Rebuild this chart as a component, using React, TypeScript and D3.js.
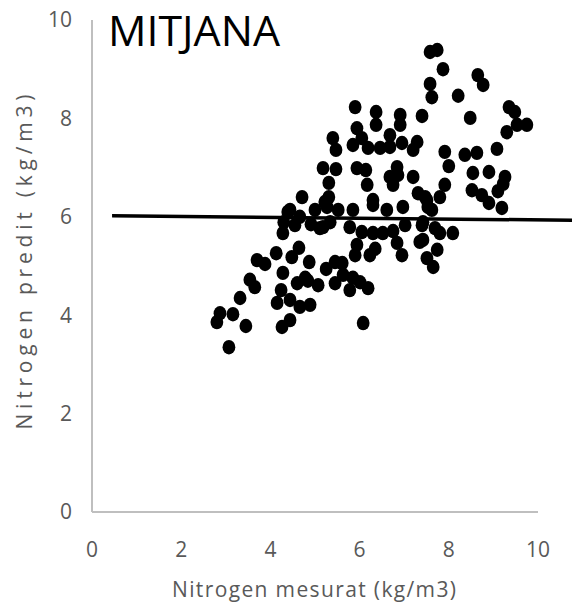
import React from 'react'
import * as d3 from 'd3'

// measured nitrogen (kg/m3)
const measured = [
  2.8, 2.87, 3.16, 3.45, 3.07, 3.32, 3.54, 3.65, 3.7, 3.88, 4.13, 4.28, 4.39, 4.3, 4.55,
  4.28, 4.24, 4.15, 4.48, 4.64, 4.44, 4.66, 4.89, 4.26, 4.44, 4.6, 4.78, 4.84, 5.07, 4.87,
  5.25, 5.45, 5.61, 4.71, 4.44, 4.66, 5.0, 4.91, 5.11, 5.22, 5.18, 5.34, 5.27, 5.52, 5.85,
  6.3, 6.61, 6.97, 7.31, 7.51, 7.62, 5.78, 6.05, 6.3, 6.52, 6.75, 7.02, 7.4, 7.8, 8.09,
  5.94, 5.9, 6.23, 6.35, 6.84, 6.95, 7.35, 7.74, 7.51, 7.65, 5.63, 5.85, 6.01, 6.19, 5.78,
  5.45, 6.08, 5.31, 5.31, 6.3, 5.18, 5.47, 5.94, 6.14, 6.84, 6.86, 6.68, 6.17, 6.75, 7.2,
  5.4, 5.47, 5.85, 6.05, 6.19, 6.46, 6.68, 6.68, 6.95, 7.2, 7.29, 5.9, 5.94, 6.37, 6.37,
  6.91, 6.91, 7.4, 7.58, 7.74, 7.87, 7.58, 7.62, 8.21, 8.65, 8.77, 8.48, 9.35, 9.48, 9.75,
  9.53, 9.3, 7.91, 8.36, 8.63, 9.08, 8.0, 8.54, 8.9, 9.26, 9.22, 7.91, 8.52, 9.1, 7.8,
  8.74, 8.9, 9.19, 7.47, 7.53, 7.42, 7.69, 7.42
]

// predicted nitrogen (kg/m3)
const predicted = [
  3.86, 4.04, 4.02, 3.78, 3.35, 4.35, 4.72, 4.57, 5.12, 5.04, 5.26, 5.67, 6.1, 5.89, 5.83,
  4.86, 4.51, 4.25, 5.18, 5.37, 4.31, 4.17, 4.21, 3.76, 3.9, 4.65, 4.76, 4.7, 4.61, 5.08,
  4.94, 5.08, 5.06, 6.4, 6.14, 6.0, 6.14, 5.85, 5.77, 6.3, 5.79, 5.89, 6.2, 6.14, 6.14,
  6.24, 6.14, 6.2, 6.48, 6.34, 6.14, 5.79, 5.69, 5.67, 5.67, 5.71, 5.83, 5.83, 5.67, 5.67,
  5.43, 5.22, 5.22, 5.35, 5.47, 5.22, 5.49, 5.33, 5.16, 4.98, 4.82, 4.76, 4.67, 4.55, 4.51,
  4.65, 3.84, 6.69, 6.4, 6.34, 6.99, 6.97, 6.99, 6.95, 7.01, 6.85, 6.81, 6.65, 6.65, 6.81,
  7.6, 7.36, 7.46, 7.6, 7.4, 7.4, 7.66, 7.42, 7.5, 7.36, 7.52, 8.23, 7.8, 8.13, 7.87,
  8.07, 7.87, 8.05, 9.35, 9.39, 9.0, 8.7, 8.43, 8.46, 8.88, 8.68, 8.01, 8.23, 8.13, 7.87,
  7.87, 7.72, 7.32, 7.26, 7.3, 7.38, 7.03, 6.89, 6.91, 6.81, 6.67, 6.65, 6.54, 6.52, 6.4,
  6.44, 6.28, 6.18, 6.4, 6.2, 5.89, 5.77, 5.53
]

const trendX = [0.45, 10.8]
const trendY = [6.02, 5.93]

const ticks = [0, 2, 4, 6, 8, 10]

const W = 572
const H = 615

const App: React.FC = () => {
  const x = d3.scaleLinear().domain([0, 10]).range([92, 538])
  const y = d3.scaleLinear().domain([0, 10]).range([512, 20])

  const line = d3
    .line<number>()
    .x((d) => x(d))
    .y((_, i) => y(trendY[i]))

  const font = "'Open Sans', sans-serif"

  return (
    <svg
      width={W}
      height={H}
      style={{ position: 'absolute', left: 0, top: 0, background: '#fff' }}
    >
      {/* axes */}
      <line x1={x(0)} x2={x(0)} y1={y(0)} y2={y(10)} stroke="#bfbfbf" strokeWidth={2} />
      <line x1={x(0)} x2={x(10)} y1={y(0)} y2={y(0)} stroke="#bfbfbf" strokeWidth={2} />

      {ticks.map((t) => (
        <text
          key={'y' + t}
          x={72}
          y={y(t)}
          dy="0.35em"
          textAnchor="end"
          fontFamily={font}
          fontSize={21}
          fill="#595959"
        >
          {t}
        </text>
      ))}
      {ticks.map((t) => (
        <text
          key={'x' + t}
          x={x(t)}
          y={550}
          dy="0.35em"
          textAnchor="middle"
          fontFamily={font}
          fontSize={21}
          fill="#595959"
        >
          {t}
        </text>
      ))}

      {/* points */}
      {measured.map((m, i) => (
        <ellipse key={i} cx={x(m)} cy={y(predicted[i])} rx={6.4} ry={7.2} fill="#000" />
      ))}

      {/* trend line */}
      <path d={line(trendX) ?? ''} fill="none" stroke="#000" strokeWidth={3.5} />

      {/* titles */}
      <text
        x={108}
        y={46}
        fontFamily={font}
        fontSize={42}
        fill="#000"
        textLength={172}
        lengthAdjust="spacingAndGlyphs"
      >
        MITJANA
      </text>
      <text
        x={314}
        y={590}
        dy="0.35em"
        textAnchor="middle"
        fontFamily={font}
        fontSize={21}
        fill="#595959"
        textLength={284}
      >
        Nitrogen mesurat (kg/m3)
      </text>
      <text
        transform={`translate(25,262) rotate(-90)`}
        dy="0.35em"
        textAnchor="middle"
        fontFamily={font}
        fontSize={21}
        fill="#595959"
        textLength={335}
      >
        Nitrogen predit (kg/m3)
      </text>
    </svg>
  )
}

export default App
